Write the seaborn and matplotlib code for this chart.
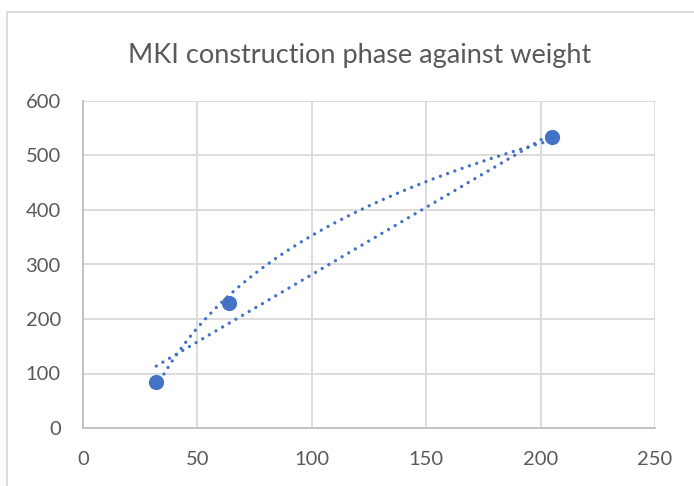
import matplotlib
matplotlib.use("Agg")
import matplotlib.pyplot as plt
import seaborn as sns
import pandas as pd
from matplotlib.patches import Rectangle

# Weight vs. construction phase measurements
weight = [32, 64, 205]
phase = [84, 229, 534]

x_ticks = [0, 50, 100, 150, 200, 250]
y_ticks = [0, 100, 200, 300, 400, 500, 600]
title = "MKI construction phase against weight"

df = pd.DataFrame({"weight": weight, "phase": phase})

sns.set_theme(style="white")
plt.rcParams["font.family"] = ["Lato", "DejaVu Sans"]

blue = "#4472C4"
grid = "#D9D9D9"
text = "#595959"

fig = plt.figure(figsize=(6.94, 4.86), dpi=100)
ax = fig.add_axes([83 / 694, 1 - 428 / 486, (655 - 83) / 694, (428 - 101) / 486])

dotted = dict(color=blue, lw=2.4, linestyle=(0, (0.01, 2.3)),
              dash_capstyle="round", solid_capstyle="round")

# Logarithmic and linear trendlines fitted to the points
sns.regplot(data=df, x="weight", y="phase", logx=True, ci=None, scatter=False,
            line_kws=dotted, ax=ax)
sns.regplot(data=df, x="weight", y="phase", ci=None, scatter=False,
            line_kws=dotted, ax=ax)
sns.scatterplot(data=df, x="weight", y="phase", color=blue, s=120,
                edgecolor=blue, linewidth=0, ax=ax, zorder=5)

ax.set_xlim(0, 250)
ax.set_ylim(0, 600)
ax.set_xticks(x_ticks)
ax.set_yticks(y_ticks)
ax.set_xlabel("")
ax.set_ylabel("")
ax.grid(True, color=grid, linewidth=1.3)
ax.set_axisbelow(True)
for side, sp in ax.spines.items():
    if side in ("left", "bottom"):
        sp.set_color("#BFBFBF")
        sp.set_linewidth(1.3)
    else:
        sp.set_visible(False)
ax.tick_params(axis="both", length=0, labelsize=14.5, colors=text)
ax.tick_params(axis="x", pad=16.5)
ax.tick_params(axis="y", pad=16)

fig.text(360 / 694, 1 - 55 / 486, title, ha="center", va="center",
         fontsize=19.5, color=text)

# Chart area border
fig.patches.append(Rectangle((7 / 694, -0.1), 1.2, 1 - 12 / 486 + 0.1,
                             transform=fig.transFigure, fill=False,
                             edgecolor=grid, linewidth=1.3))

fig.savefig("out.png", dpi=100)
